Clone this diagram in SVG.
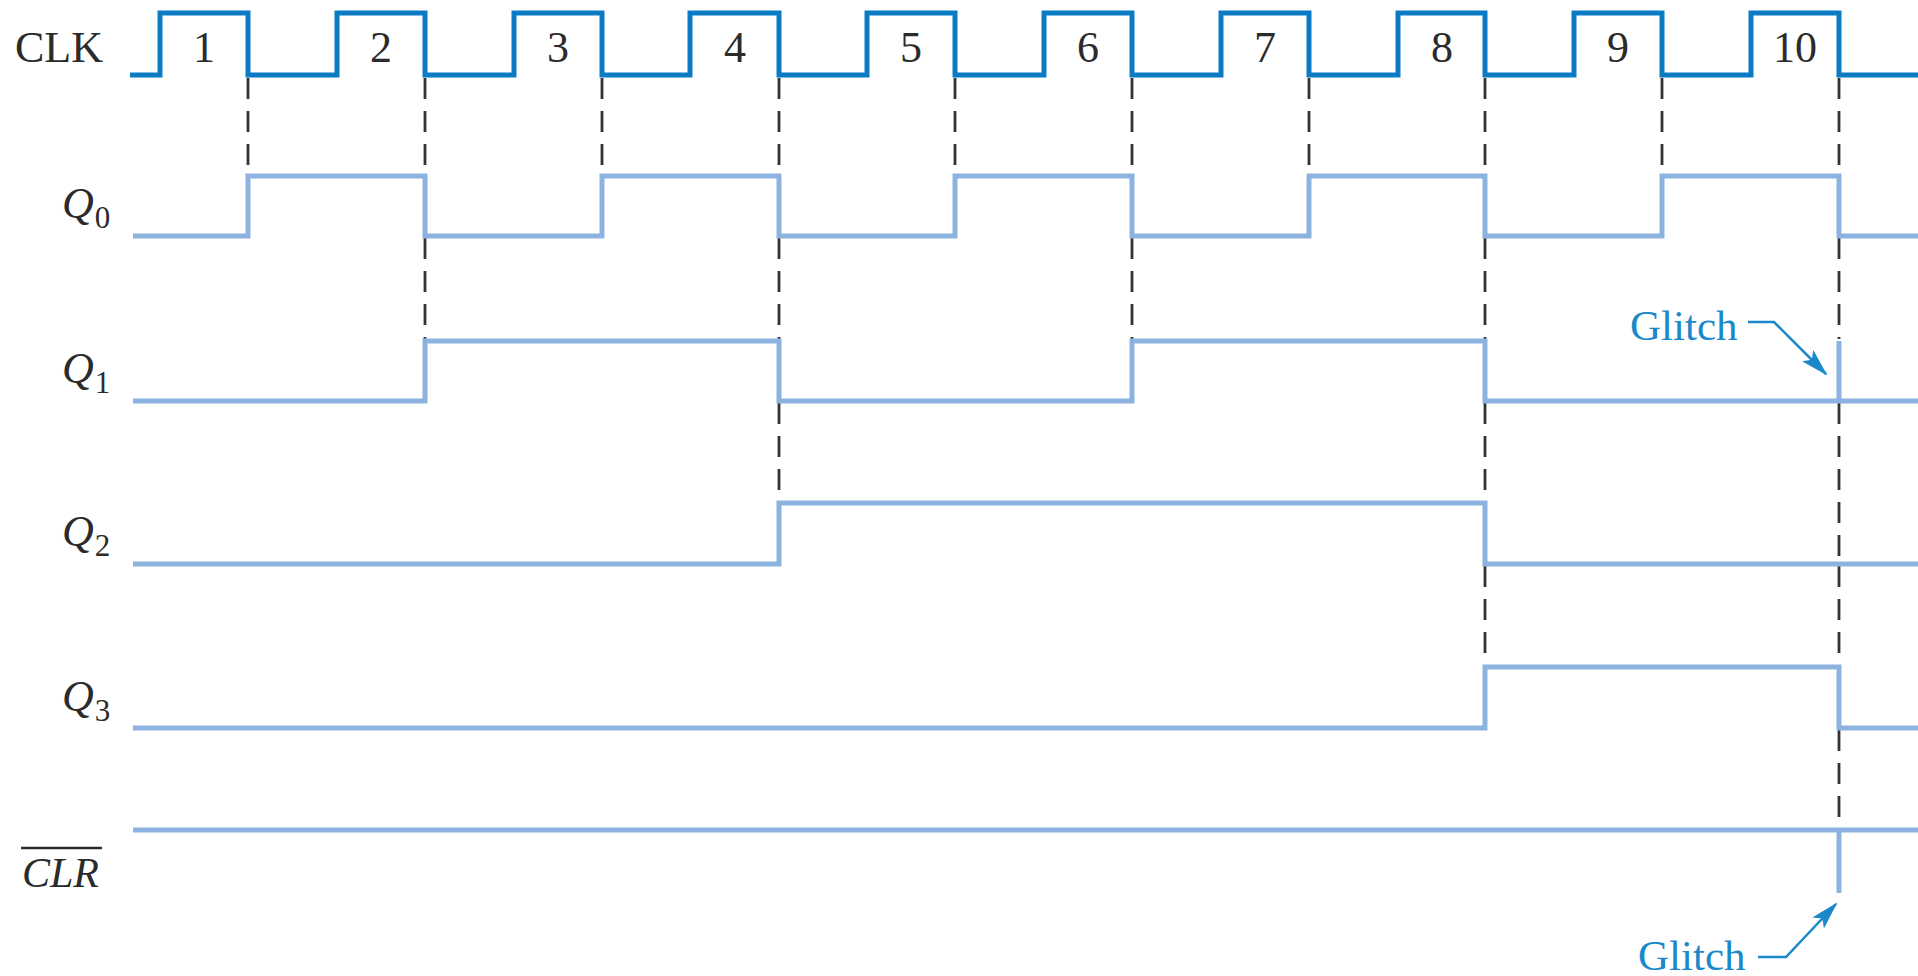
<svg xmlns="http://www.w3.org/2000/svg" width="1918" height="976" viewBox="0 0 1918 976">
<style>
text{font-family:"Liberation Serif","Times New Roman",serif;fill:#2b2b2b}
.lbl{font-size:44px}
.q{font-size:44px;font-style:italic}
.sub{font-size:31px;font-style:normal}
.num{font-size:44px;text-anchor:middle}
.clk{fill:none;stroke:#0b7cc3;stroke-width:5;stroke-linejoin:miter}
.wave{fill:none;stroke:#8cb3e0;stroke-width:5;stroke-linejoin:miter}
.dash{stroke:#333333;stroke-width:2.8;stroke-dasharray:21 12}
.gl{font-size:43px;fill:#1b88c9}
.arr{fill:none;stroke:#1b88c9;stroke-width:2.5;marker-end:url(#ah)}
</style>
<defs>
<marker id="ah" markerWidth="28" markerHeight="16" refX="26" refY="8" orient="auto" markerUnits="userSpaceOnUse">
<path d="M0,0 L28,8 L0,16 L6,8 Z" fill="#1b88c9"/>
</marker>
</defs>
<rect width="1918" height="976" fill="#ffffff"/>

<g id="connectors">
<line class="dash" x1="248" y1="78" x2="248" y2="174"/>
<line class="dash" x1="425" y1="78" x2="425" y2="174"/>
<line class="dash" x1="425" y1="238" x2="425" y2="339"/>
<line class="dash" x1="602" y1="78" x2="602" y2="174"/>
<line class="dash" x1="779" y1="78" x2="779" y2="174"/>
<line class="dash" x1="779" y1="238" x2="779" y2="339"/>
<line class="dash" x1="779" y1="403" x2="779" y2="501"/>
<line class="dash" x1="955" y1="78" x2="955" y2="174"/>
<line class="dash" x1="1132" y1="78" x2="1132" y2="174"/>
<line class="dash" x1="1132" y1="238" x2="1132" y2="339"/>
<line class="dash" x1="1309" y1="78" x2="1309" y2="174"/>
<line class="dash" x1="1485" y1="78" x2="1485" y2="174"/>
<line class="dash" x1="1485" y1="238" x2="1485" y2="339"/>
<line class="dash" x1="1485" y1="403" x2="1485" y2="501"/>
<line class="dash" x1="1485" y1="566" x2="1485" y2="665"/>
<line class="dash" x1="1662" y1="78" x2="1662" y2="174"/>
<line class="dash" x1="1839" y1="78" x2="1839" y2="174"/>
<line class="dash" x1="1839" y1="238" x2="1839" y2="339"/>
<line class="dash" x1="1839" y1="403" x2="1839" y2="562"/>
<line class="dash" x1="1839" y1="566" x2="1839" y2="665"/>
<line class="dash" x1="1839" y1="730" x2="1839" y2="828"/>
<path class="arr" d="M1748,322 H1774 L1826,374"/>
<path class="arr" d="M1758,957 H1786 L1836,904"/>
</g>

<g id="clk">
<text class="lbl" x="15" y="62">CLK</text>
<path class="clk" d="M130,75 H160 V13 H248 V75 H337 V13 H425 V75 H514 V13 H602 V75 H690 V13 H779 V75 H867 V13 H955 V75 H1044 V13 H1132 V75 H1221 V13 H1309 V75 H1398 V13 H1485 V75 H1574 V13 H1662 V75 H1751 V13 H1839 V75 H1918"/>
<text class="num" x="204" y="62">1</text>
<text class="num" x="381" y="62">2</text>
<text class="num" x="558" y="62">3</text>
<text class="num" x="735" y="62">4</text>
<text class="num" x="911" y="62">5</text>
<text class="num" x="1088" y="62">6</text>
<text class="num" x="1265" y="62">7</text>
<text class="num" x="1442" y="62">8</text>
<text class="num" x="1618" y="62">9</text>
<text class="num" x="1795" y="62">10</text>
</g>

<g id="q0">
<text class="q" x="62" y="218">Q<tspan class="sub" dx="1" dy="10">0</tspan></text>
<path class="wave" d="M133,236 H248 V176 H425 V236 H602 V176 H779 V236 H955 V176 H1132 V236 H1309 V176 H1485 V236 H1662 V176 H1839 V236 H1918"/>
</g>

<g id="q1">
<text class="q" x="62" y="383">Q<tspan class="sub" dx="1" dy="10">1</tspan></text>
<path class="wave" d="M133,401 H425 V341 H779 V401 H1132 V341 H1485 V401 H1918 M1839,341 V401"/>
<text class="gl" x="1630" y="340">Glitch</text>
</g>

<g id="q2">
<text class="q" x="62" y="546">Q<tspan class="sub" dx="1" dy="10">2</tspan></text>
<path class="wave" d="M133,564 H779 V503 H1485 V564 H1918"/>
</g>

<g id="q3">
<text class="q" x="62" y="711">Q<tspan class="sub" dx="1" dy="10">3</tspan></text>
<path class="wave" d="M133,728 H1485 V667 H1839 V728 H1918"/>
</g>

<g id="clr">
<line x1="21" y1="848" x2="102" y2="848" stroke="#2b2b2b" stroke-width="2.5"/>
<text class="q" x="22" y="887" style="font-size:42px">CLR</text>
<path class="wave" d="M133,830 H1918 M1839,830 V893"/>
<text class="gl" x="1638" y="970">Glitch</text>
</g>
</svg>
